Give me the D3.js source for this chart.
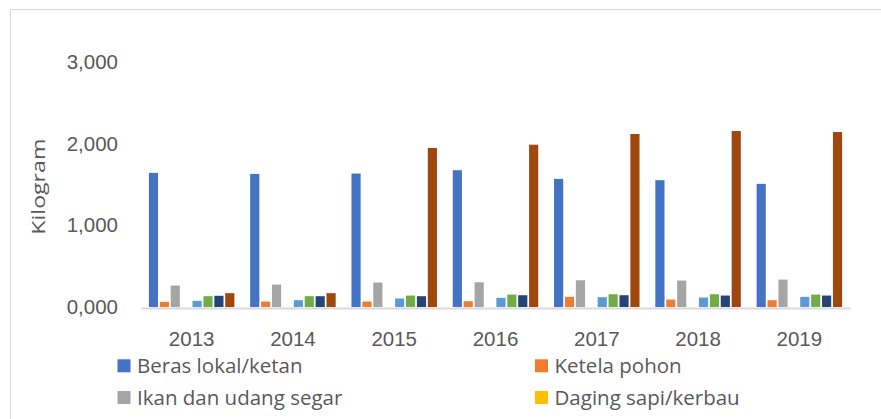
<!DOCTYPE html>
<html>
<head>
<meta charset="utf-8">
<script src="https://cdn.jsdelivr.net/npm/d3@7"></script>
<style>
  body { margin: 0; background: #fff; }
  svg { display: block; font-family: "Open Sans", sans-serif; }
</style>
</head>
<body>
<div id="chart"></div>
<script>
// Years on the x axis
const years = ["2013", "2014", "2015", "2016", "2017", "2018", "2019"];

// Series, in the order they are drawn (legend is cut off after the 4th)
const seriesNames = [
    "Beras lokal/ketan", "Ketela pohon", "Ikan dan udang segar", "Daging sapi/kerbau",
    "Seri 5", "Seri 6", "Seri 7", "Seri 8"
];
const seriesColors = [
    "#4472C4", "#ED7D31", "#A5A5A5", "#FFC000",
    "#5B9BD5", "#70AD47", "#264478", "#9E480E"
];

// Values per series (kg), one per year
const berasLokal   = [1640, 1628, 1632, 1673, 1567, 1551, 1506];
const ketelaPohon  = [63, 67, 67, 71, 124, 91, 83];
const ikanUdang    = [262, 274, 299, 302, 327, 323, 335];
const dagingSapi   = [0, 0, 0, 0, 0, 0, 0];
const seri5        = [75, 83, 104, 112, 120, 116, 124];
const seri6        = [132, 132, 140, 152, 156, 156, 152];
const seri7        = [137, 132, 132, 144, 144, 140, 140];
const seri8        = [169, 169, 1945, 1985, 2116, 2152, 2140];
const seriesValues = [berasLokal, ketelaPohon, ikanUdang, dagingSapi, seri5, seri6, seri7, seri8];

// y axis ticks
const yTicks = [0, 1000, 2000, 3000];
const yTickLabels = ["0,000", "1,000", "2,000", "3,000"];

const width = 881, height = 419;
const plot = { left: 141, right: 850, top: 61.7, bottom: 307 };
const textColor = "#595959";
const lineColor = "#D9D9D9";

const svg = d3.select("#chart").append("svg")
    .attr("width", width)
    .attr("height", height);

// outer chart border (runs off the right and bottom of the picture)
svg.append("rect")
    .attr("x", 10.5).attr("y", 9.5)
    .attr("width", 1000).attr("height", 600)
    .attr("fill", "none")
    .attr("stroke", lineColor)
    .attr("stroke-width", 1);

const x0 = d3.scaleBand()
    .domain(years)
    .range([plot.left, plot.right])
    .paddingInner(0.156)
    .paddingOuter(0.078);

const x1 = d3.scaleBand()
    .domain(seriesNames)
    .range([0, x0.bandwidth()])
    .paddingInner(0.16);

const y = d3.scaleLinear()
    .domain([0, 3000])
    .range([plot.bottom, plot.top]);

// x axis
const xAxis = svg.append("g")
    .attr("transform", `translate(0,${plot.bottom + 1})`)
    .call(d3.axisBottom(x0).tickSize(0).tickPadding(23));
xAxis.select(".domain")
    .attr("stroke", lineColor)
    .attr("stroke-width", 2);
xAxis.selectAll("text")
    .attr("fill", textColor)
    .style("font-size", "20.5px");

// y axis
const yAxis = svg.append("g")
    .attr("transform", `translate(${plot.left},0)`)
    .call(d3.axisLeft(y)
        .tickValues(yTicks)
        .tickFormat((d, i) => yTickLabels[i])
        .tickSize(0)
        .tickPadding(23));
yAxis.select(".domain").remove();
yAxis.selectAll("text")
    .attr("fill", textColor)
    .style("font-size", "20.5px");

// bars
const groups = svg.append("g").selectAll("g")
    .data(years)
    .join("g")
    .attr("transform", d => `translate(${x0(d)},0)`);

groups.selectAll("rect")
    .data((year, i) => seriesNames.map((name, s) => ({ name, s, value: seriesValues[s][i] })))
    .join("rect")
    .attr("x", d => x1(d.name))
    .attr("y", d => y(d.value))
    .attr("width", x1.bandwidth())
    .attr("height", d => y(0) - y(d.value))
    .attr("fill", d => seriesColors[d.s]);

// y axis title
svg.append("text")
    .attr("transform", "translate(45,186.7) rotate(-90)")
    .attr("text-anchor", "middle")
    .attr("fill", textColor)
    .attr("textLength", 96)
    .attr("lengthAdjust", "spacingAndGlyphs")
    .style("font-size", "18px")
    .text("Kilogram");

// legend: two columns, only the first two rows fit in the picture
const legendCols = [117.5, 535];
const legendRows = [373.3, 405];
const legend = svg.append("g").selectAll("g")
    .data(seriesNames.slice(0, 4))
    .join("g")
    .attr("transform", (d, i) => `translate(${legendCols[i % 2]},${legendRows[Math.floor(i / 2)]})`);

legend.append("rect")
    .attr("x", 0).attr("y", -14)
    .attr("width", 13).attr("height", 13)
    .attr("fill", (d, i) => seriesColors[i]);

legend.append("text")
    .attr("x", 19.5)
    .attr("y", 0)
    .attr("fill", textColor)
    .style("font-size", "20.5px")
    .text(d => d);
</script>
</body>
</html>
